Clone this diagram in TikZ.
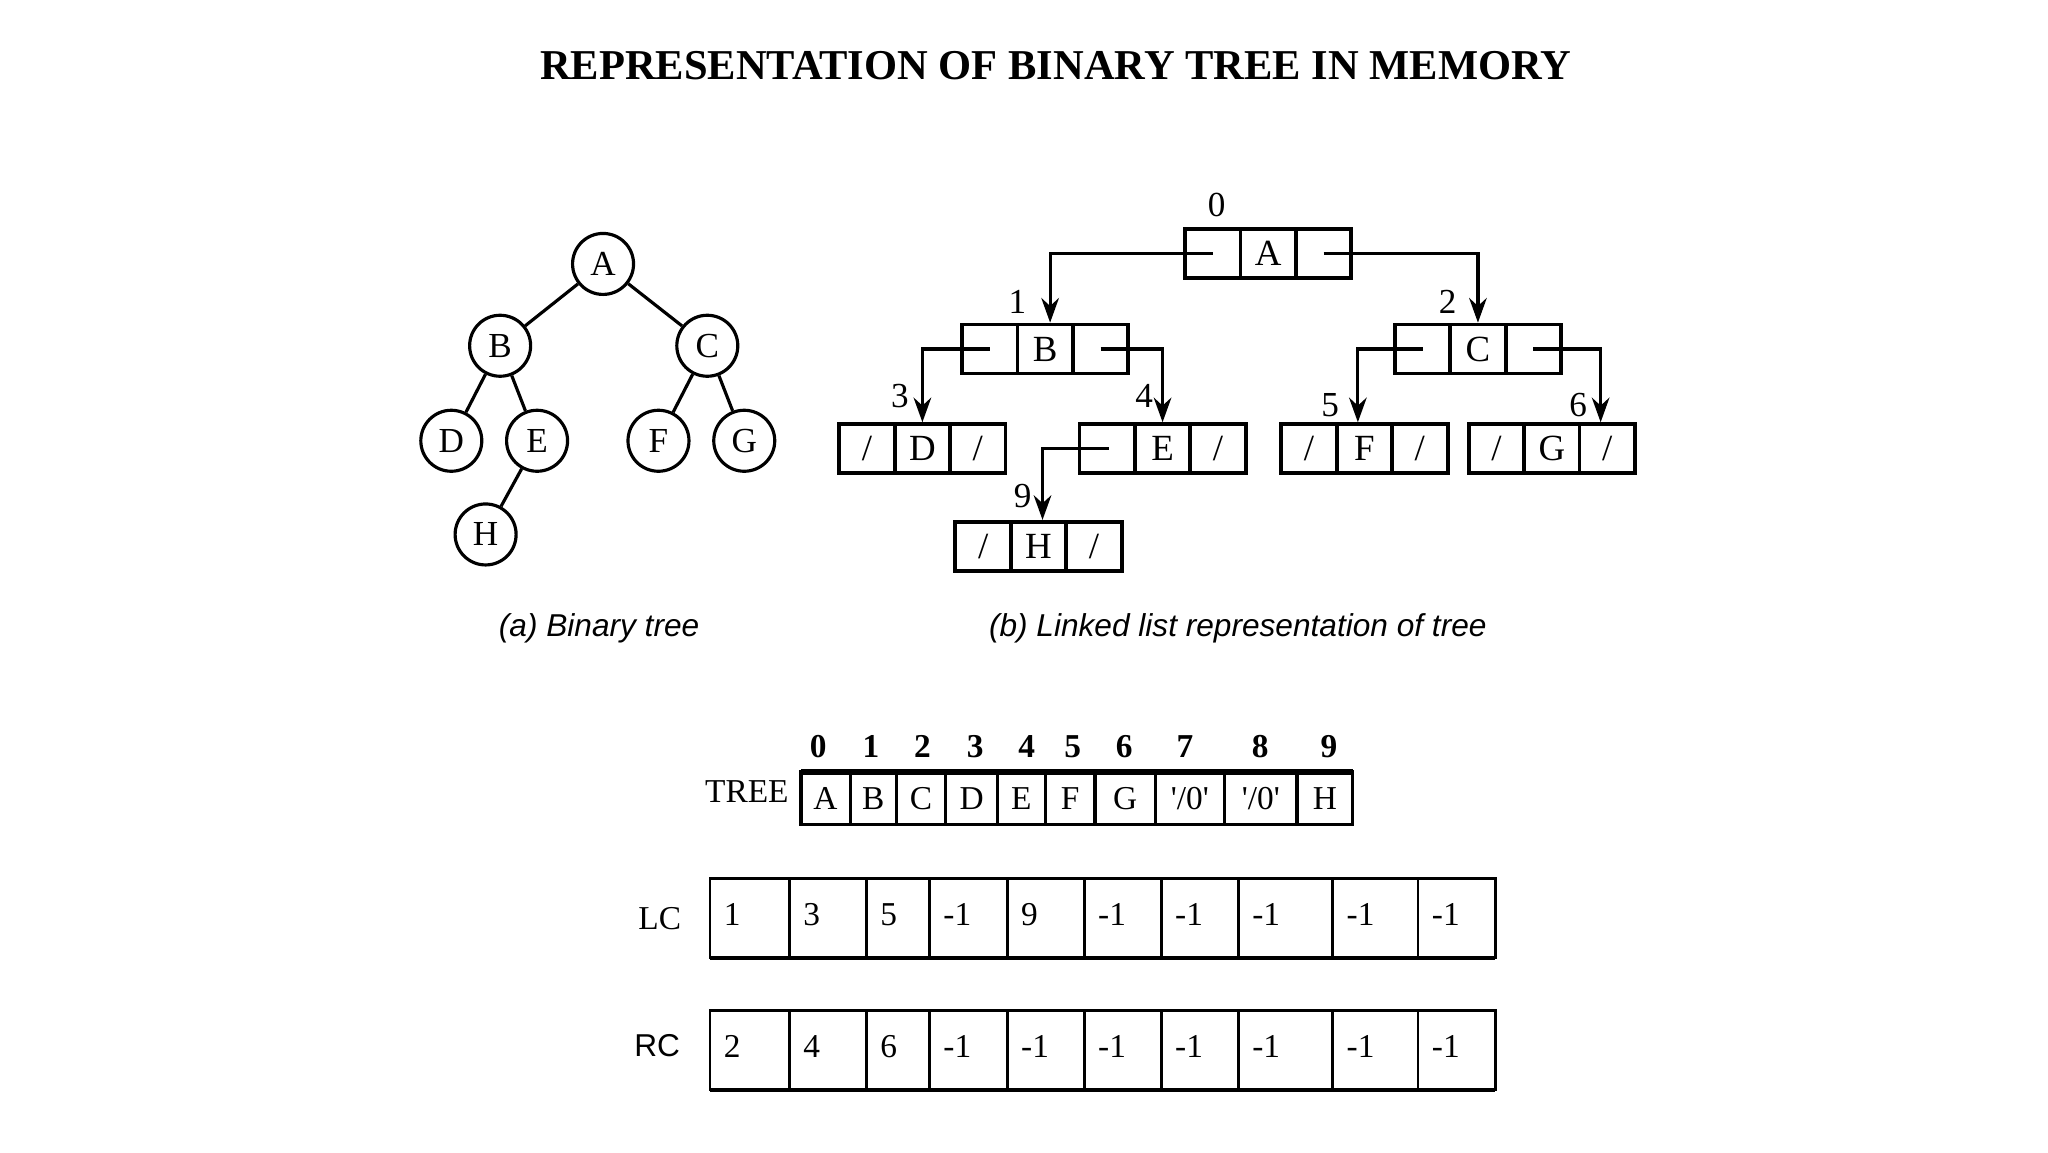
\documentclass[tikz,border=0pt]{standalone}
\usepackage{fontspec}
\setmainfont{Liberation Serif}
\newfontfamily\capfont{Liberation Sans}
\usetikzlibrary{arrows.meta,calc}
\begin{document}
\begin{tikzpicture}[x=0.0131959cm,y=-0.0131959cm,
  tn/.style={circle,draw,line width=0.9pt,minimum size=0.61cm,inner sep=0pt,font=\fontsize{10}{12}\selectfont},
  ll/.style={draw,line width=1.1pt,minimum width=1.663cm,minimum height=0.49cm,inner sep=0pt,font=\fontsize{10.5}{12}\selectfont,
    path picture={\draw[line width=1.1pt] ([xshift=-0.277cm]path picture bounding box.north) -- ([xshift=-0.277cm]path picture bounding box.south);
                  \draw[line width=1.1pt] ([xshift=0.277cm]path picture bounding box.north) -- ([xshift=0.277cm]path picture bounding box.south);}},
  sl/.style={font=\fontsize{10.5}{12}\selectfont},
  idx/.style={font=\fontsize{10}{12}\selectfont},
  arr/.style={line width=0.9pt,-{Stealth[length=7pt,width=5pt]}},
  captxt/.style={font=\capfont\itshape\fontsize{9}{11}\selectfont},
  cell/.style={font=\fontsize{9.5}{11}\selectfont}]
\useasboundingbox (0,0) rectangle (1552,873);
\fill[white] (0,0) rectangle (1552,873);
\node[font=\bfseries\fontsize{12.1}{14}\selectfont] (title) at (800,50) {REPRESENTATION OF BINARY TREE IN MEMORY};
% (a) binary tree
\node[tn] (tA) at (457,200) {A};
\node[tn] (tB) at (379,262) {B};
\node[tn] (tC) at (536,262) {C};
\node[tn] (tD) at (342,334) {D};
\node[tn] (tE) at (407,334) {E};
\node[tn] (tF) at (499,334) {F};
\node[tn] (tG) at (564,334) {G};
\node[tn] (tH) at (368,405) {H};
\foreach \a/\b in {tA/tB,tA/tC,tB/tD,tB/tE,tC/tF,tC/tG,tE/tH} \draw[line width=0.9pt] (\a) -- (\b);
\node[captxt] (capa) at (454,476) {(a) Binary tree};
\node[captxt] (capb) at (938,476) {(b) Linked list representation of tree};
% (b) linked list
\node[ll] (A) at (961,192) {A};
\node[ll] (B) at (792,264.5) {B};
\node[ll] (C) at (1120,264.5) {C};
\node[ll] (D) at (699,340) {D};
\node[ll] (E) at (881,340) {E};
\node[ll] (F) at (1034,340) {F};
\node[ll] (G) at (1176,340) {G};
\node[ll] (H) at (787,414) {H};
\foreach \n in {D,F,G,H} {\node[sl] (\n l) at ([xshift=-0.554cm]\n.center) {/};}
\foreach \n in {D,E,F,G,H} {\node[sl] (\n r) at ([xshift=0.554cm]\n.center) {/};}
\draw[arr] ([xshift=-0.554cm]A.center) -| ([xshift=0.05cm]B.north);
\draw[arr] ([xshift=0.554cm]A.center) -| (C.north);
\draw[arr] ([xshift=-0.554cm]B.center) -| (D.north);
\draw[arr] ([xshift=0.554cm]B.center) -| (E.north);
\draw[arr] ([xshift=-0.554cm]C.center) -| ([xshift=-0.066cm]F.north);
\draw[arr] ([xshift=0.554cm]C.center) -| ([xshift=0.488cm]G.north);
\draw[arr] ([xshift=-0.54cm]E.center) -| ([xshift=0.04cm]H.north);
\node[idx] (i0) at (922,155) {0};
\node[idx] (i1) at (771,229) {1};
\node[idx] (i2) at (1097,229) {2};
\node[idx] (i3) at (682,300) {3};
\node[idx] (i4) at (867,300) {4};
\node[idx] (i5) at (1008,307) {5};
\node[idx] (i6) at (1196,307) {6};
\node[idx] (i9) at (775,376) {9};
% TREE array
\node[cell] (treel) at (566,600) {TREE};
\draw[line width=0.9pt] (607,585) rectangle (1025,625);
\draw[line width=1.5pt] (607,585) -- (1025,585);
\foreach \x in {644.3,679.3,716.6,756,792,829.8,875.4,928,982.9} \draw[line width=0.9pt] (\x,585) -- (\x,625);
\foreach \c/\t/\i [count=\k from 0] in {625.6/A/620,661.8/B/660,698/C/699,736.3/D/739,774/E/778,810.9/F/813,852.6/G/852,901.7/{\textquotesingle/0\textquotesingle}/898,955.5/{\textquotesingle/0\textquotesingle}/955,1004/H/1007}{
  \node[cell] (t\k) at (\c,605) {\t};
  \node[idx,font=\bfseries\fontsize{9.5}{11}\selectfont] (n\k) at (\i,566) {\k};
}
% LC and RC
\node[cell] (lcl) at (500,696) {LC};
\node[font=\capfont\fontsize{9}{11}\selectfont] (rcl) at (498,792) {RC};
\draw[line width=0.8pt] (538,666) rectangle (1133,726);
\draw[line width=1.3pt] (538,726) -- (1133,726);
\draw[line width=0.8pt] (538,766) rectangle (1133,826);
\draw[line width=1.3pt] (538,826) -- (1133,826);
\foreach \x in {598.2,656.6,704.4,763.3,821.7,880,938.5,1010,1074.6} {
  \draw[line width=0.8pt] (\x,666) -- (\x,726);
  \draw[line width=0.8pt] (\x,766) -- (\x,826);
}
\foreach \x/\a/\b [count=\k] in {548/1/2,608.2/3/4,666.6/5/6,714.4/-1/-1,773.3/9/-1,831.7/-1/-1,890/-1/-1,948.5/-1/-1,1020/-1/-1,1084.6/-1/-1}{
  \node[cell,anchor=west,inner sep=0pt] (lc\k) at (\x,693) {\a};
  \node[cell,anchor=west,inner sep=0pt] (rc\k) at (\x,793) {\b};
}
\end{tikzpicture}
\end{document}
